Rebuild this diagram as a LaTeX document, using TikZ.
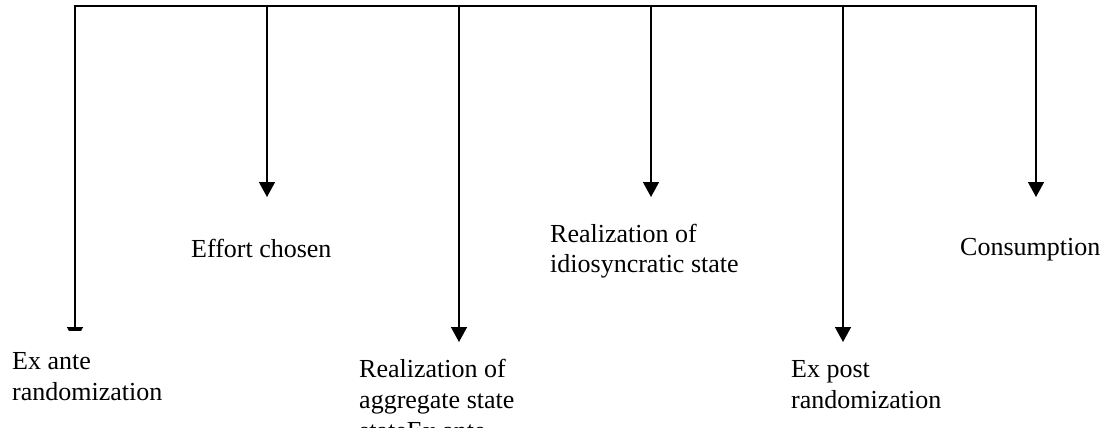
\documentclass[tikz,border=0pt]{standalone}
\usepackage{fontspec}
\setmainfont{Liberation Serif}
\usetikzlibrary{arrows.meta}
\begin{document}
\begin{tikzpicture}[x=1pt,y=-1pt,
  conn/.style={line width=1.4pt,-{Triangle[length=15pt,width=16pt]}},
  bar/.style={line width=1.4pt},
  lbl/.style={anchor=base west,inner sep=0pt,font=\fontsize{26}{31}\selectfont}]
\useasboundingbox (0,0) rectangle (1110,441);
% junctions on the top line
\coordinate (t1) at (75,6);
\coordinate (t2) at (267,6);
\coordinate (t3) at (459,6);
\coordinate (t4) at (651,6);
\coordinate (t5) at (843,6);
\coordinate (t6) at (1036,6);
% arrow tips
\coordinate (e1) at (75,342);
\coordinate (e2) at (267,197);
\coordinate (e3) at (459,342);
\coordinate (e4) at (651,197);
\coordinate (e5) at (843,342);
\coordinate (e6) at (1036,197);
\draw[bar] ([xshift=-0.7pt]t1) -- ([xshift=0.7pt]t6);
\foreach \i in {1,...,6}{\draw[conn] ([yshift=-0.7pt]t\i) -- (e\i);}
% labels
\fill[white] (0,331) rectangle (200,420);
\node[lbl] (a1) at (12,369) {Ex ante};
\node[lbl] (a2) at (12,400) {randomization};
\node[lbl] (b1) at (191,257) {Effort chosen};
\node[lbl] (c1) at (359,377) {Realization of};
\node[lbl] (c2) at (359,408) {aggregate state};
\node[lbl] (c3) at (359,439) {stateEx ante};
\fill[white] (340,428) rectangle (600,441);
\node[lbl] (d1) at (550,242) {Realization of};
\node[lbl] (d2) at (550,272) {idiosyncratic state};
\node[lbl] (f1) at (791,377) {Ex post};
\node[lbl] (f2) at (791,408) {randomization};
\node[lbl] (g1) at (960,255) {Consumption};
\end{tikzpicture}
\end{document}
